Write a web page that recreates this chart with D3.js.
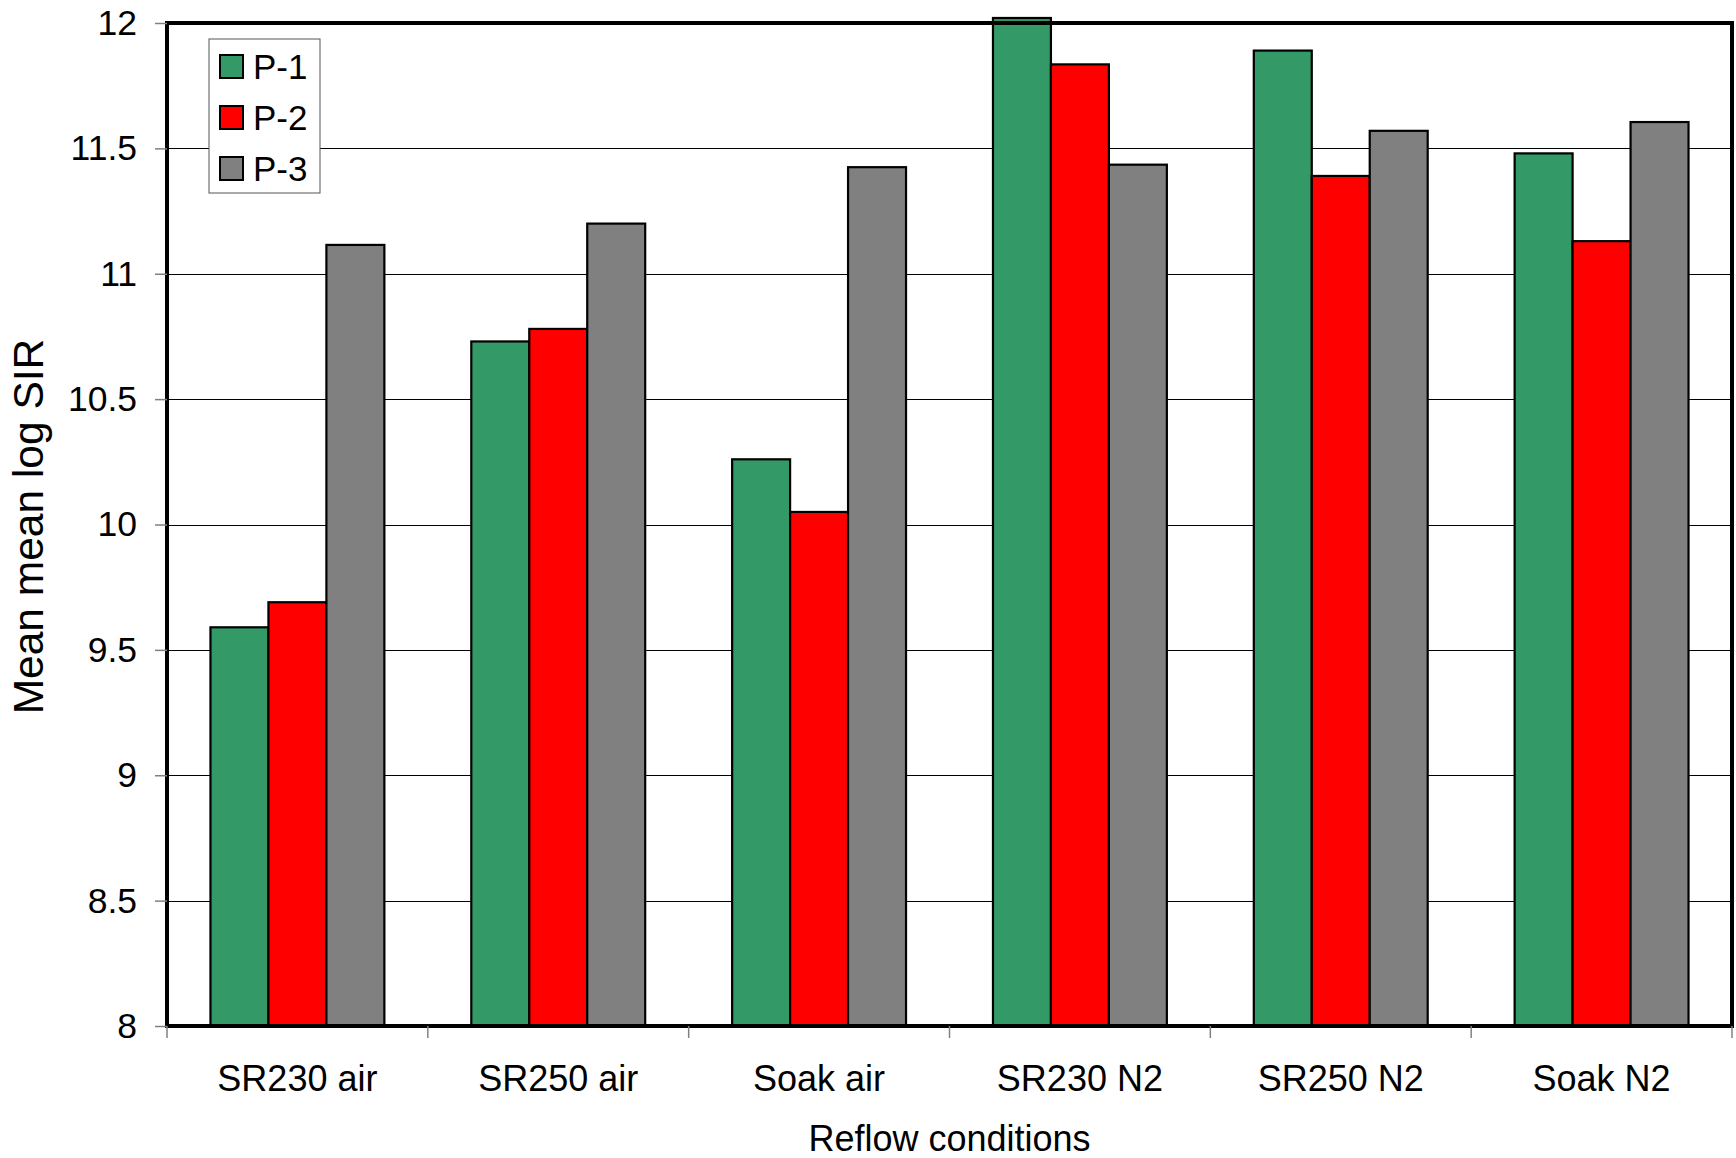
<!DOCTYPE html>
<html>
<head>
<meta charset="utf-8">
<script src="https://cdn.jsdelivr.net/npm/d3@7"></script>
<style>
  body { margin: 0; background: #fff; }
  svg { display: block; font-family: "Liberation Sans", Arial, sans-serif; }
</style>
</head>
<body>
<script>
var categories = ["SR230 air", "SR250 air", "Soak air", "SR230 N2", "SR250 N2", "Soak N2"];
var seriesNames = ["P-1", "P-2", "P-3"];
var p1 = [9.59, 10.73, 10.26, 12.02, 11.89, 11.48];
var p2 = [9.69, 10.78, 10.05, 11.835, 11.39, 11.13];
var p3 = [11.115, 11.20, 11.425, 11.435, 11.57, 11.605];
var yTicks = [8, 8.5, 9, 9.5, 10, 10.5, 11, 11.5, 12];
var colors = ["#339966", "#ff0000", "#808080"];

var width = 1736, height = 1158;
var plot = {left: 167, right: 1732, top: 23, bottom: 1026};

var svg = d3.select("body").append("svg")
    .attr("width", width)
    .attr("height", height);

var x0 = d3.scaleBand()
    .domain(categories)
    .range([plot.left, plot.right])
    .padding(0);

var x1 = d3.scaleBand()
    .domain(seriesNames)
    .range([0, x0.bandwidth()])
    .paddingInner(0)
    .paddingOuter(0.75);

var y = d3.scaleLinear()
    .domain([8, 12])
    .range([plot.bottom, plot.top]);

var color = d3.scaleOrdinal().domain(seriesNames).range(colors);

// gridlines
svg.append("g")
  .selectAll("line")
  .data(yTicks.slice(1, -1))
  .enter().append("line")
    .attr("x1", plot.left).attr("x2", plot.right)
    .attr("y1", function(d) { return Math.round(y(d)) + 0.5; })
    .attr("y2", function(d) { return Math.round(y(d)) + 0.5; })
    .attr("stroke", "#000")
    .attr("stroke-width", 1.2);

// bars
var rows = categories.map(function(c, i) {
  return {cat: c, vals: [p1[i], p2[i], p3[i]]};
});

svg.append("g")
  .selectAll("g")
  .data(rows)
  .enter().append("g")
    .attr("transform", function(d) { return "translate(" + x0(d.cat) + ",0)"; })
  .selectAll("rect")
  .data(function(d) { return d.vals.map(function(v, j) { return {s: seriesNames[j], v: v}; }); })
  .enter().append("rect")
    .attr("x", function(d) { return x1(d.s); })
    .attr("width", x1.bandwidth())
    .attr("y", function(d) { return y(d.v); })
    .attr("height", function(d) { return y(8) - y(d.v); })
    .attr("fill", function(d) { return color(d.s); })
    .attr("stroke", "#000")
    .attr("stroke-width", 2.2);

// plot frame
svg.append("rect")
    .attr("x", plot.left).attr("y", plot.top)
    .attr("width", plot.right - plot.left)
    .attr("height", plot.bottom - plot.top)
    .attr("fill", "none")
    .attr("stroke", "#000")
    .attr("stroke-width", 4);

// y axis
var yAxis = svg.append("g")
    .attr("transform", "translate(" + plot.left + ",0)")
    .call(d3.axisLeft(y).tickValues(yTicks).tickSize(12).tickPadding(18)
      .tickFormat(function(d) { return String(d); }));
yAxis.select(".domain").remove();
yAxis.selectAll(".tick line").attr("stroke", "#808080").attr("stroke-width", 1.5);
yAxis.selectAll(".tick text")
    .attr("font-size", 35.5)
    .attr("font-family", "Liberation Sans, Arial, sans-serif")
    .attr("fill", "#000");

// x axis ticks at category boundaries
var bounds = categories.map(function(c) { return x0(c); }).concat([plot.right]);
svg.append("g")
  .selectAll("line")
  .data(bounds)
  .enter().append("line")
    .attr("x1", function(d) { return d; }).attr("x2", function(d) { return d; })
    .attr("y1", plot.bottom).attr("y2", plot.bottom + 12)
    .attr("stroke", "#808080")
    .attr("stroke-width", 1.5);

svg.append("g")
  .selectAll("text")
  .data(categories)
  .enter().append("text")
    .attr("x", function(d) { return x0(d) + x0.bandwidth() / 2; })
    .attr("y", 1091)
    .attr("text-anchor", "middle")
    .attr("font-size", 36)
    .text(function(d) { return d; });

// axis titles
svg.append("text")
    .attr("x", (plot.left + plot.right) / 2)
    .attr("y", 1151)
    .attr("text-anchor", "middle")
    .attr("font-size", 36)
    .text("Reflow conditions");

svg.append("text")
    .attr("transform", "translate(43," + ((plot.top + plot.bottom) / 2 + 2) + ") rotate(-90)")
    .attr("text-anchor", "middle")
    .attr("font-size", 42.5)
    .text("Mean mean log SIR");

// legend
var legend = svg.append("g").attr("transform", "translate(209,39)");
legend.append("rect")
    .attr("width", 111).attr("height", 154)
    .attr("fill", "#fff")
    .attr("stroke", "#555")
    .attr("stroke-width", 1);
var item = legend.selectAll("g.item")
  .data(seriesNames)
  .enter().append("g")
    .attr("class", "item")
    .attr("transform", function(d, i) { return "translate(11," + (16 + i * 51) + ")"; });
item.append("rect")
    .attr("width", 23).attr("height", 23)
    .attr("fill", function(d) { return color(d); })
    .attr("stroke", "#000")
    .attr("stroke-width", 2);
item.append("text")
    .attr("x", 33)
    .attr("y", 24)
    .attr("font-size", 35)
    .text(function(d) { return d; });
</script>
</body>
</html>
